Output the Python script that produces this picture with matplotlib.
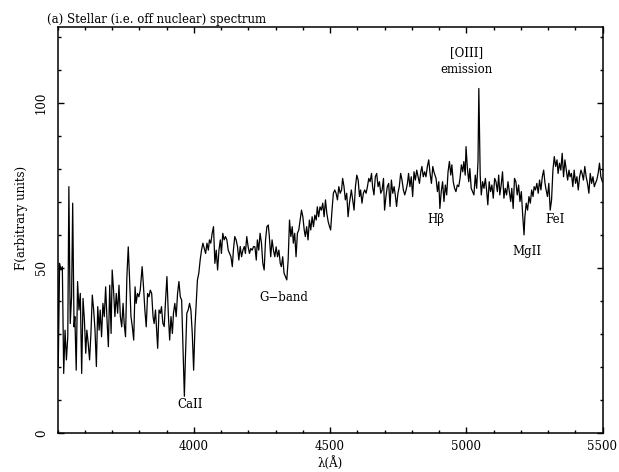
import numpy as np
import matplotlib
matplotlib.use("Agg")
import matplotlib.pyplot as plt
from matplotlib.ticker import MultipleLocator

plt.rcParams.update({
    'font.family': 'DejaVu Serif',
    'font.size': 8.5,
})

# wavelength (A) and flux, blue part
wave_a = [3500, 3502, 3507, 3512, 3517, 3522, 3527, 3532, 3537, 3541, 3546, 3551, 3555, 3560,
          3563, 3568, 3573, 3578, 3583, 3588, 3593, 3598, 3603, 3607, 3612, 3617, 3622, 3627,
          3632, 3637, 3642, 3647, 3652, 3656, 3661, 3666, 3671, 3676, 3681, 3686, 3691, 3696,
          3700, 3705, 3710, 3715, 3720, 3725, 3730, 3735, 3740, 3744, 3749, 3754, 3759, 3764,
          3769, 3774, 3779, 3784, 3788, 3793, 3798, 3803, 3810, 3815, 3820, 3825, 3830, 3835,
          3840, 3845, 3850, 3854, 3859]
flux_a = [51.4, 20.2, 51.4, 49.4, 50.4, 18.1, 31.2, 22.2, 29.2, 74.6, 33.2, 41.3, 69.6, 32.2,
          35.3, 19.1, 45.9, 37.3, 42.3, 18.1, 40.8, 34.3, 24.2, 31.2, 27.2, 22.2, 30.2, 41.8,
          37.3, 31.2, 20.2, 38.3, 31.2, 37.3, 29.2, 39.3, 35.3, 44.3, 34.3, 26.2, 44.8, 30.2,
          49.4, 43.3, 35.3, 42.3, 36.3, 44.8, 35.3, 32.2, 39.3, 33.2, 29.2, 47.4, 56.4, 46.4,
          35.3, 32.2, 28.2, 44.3, 39.3, 42.3, 41.3, 43.3, 50.4, 44.3, 37.3, 32.2, 42.3, 41.3,
          43.3, 42.3, 35.3, 33.2, 37.3]

# CaII break region
wave_b = [3867, 3872, 3877, 3881, 3886, 3891, 3896, 3901, 3906, 3911, 3916, 3921, 3925, 3930,
          3935, 3940, 3945, 3950, 3955, 3960, 3965, 3969, 3974, 3979, 3984, 3989, 3994, 3999,
          4004, 4009, 4013, 4018, 4023, 4028, 4033, 4038, 4043, 4048, 4053, 4057, 4062, 4067,
          4072, 4077, 4082, 4087, 4092, 4097, 4101, 4106, 4111, 4116, 4121, 4126, 4131, 4136,
          4141, 4145, 4150, 4155, 4160, 4165, 4170, 4175, 4180, 4185, 4189, 4194, 4199, 4204,
          4209, 4214, 4219]
flux_b = [25.7, 37.3, 36.3, 38.3, 33.3, 32.3, 40.3, 47.4, 36.3, 28.2, 35.3, 30.2, 36.3, 39.3,
          35.3, 42.3, 45.9, 41.3, 40.3, 26.2, 11.2, 23.2, 36.3, 37.3, 39.3, 37.3, 30.2, 19.1,
          32.3, 40.3, 46.4, 48.4, 52.4, 55.4, 57.5, 55.9, 54.4, 57.5, 55.4, 58.5, 57.5, 60.5,
          62.5, 51.4, 55.4, 49.4, 55.4, 58.5, 54.4, 60.5, 58.5, 59.5, 58.5, 55.4, 54.4, 53.4,
          50.4, 55.4, 59.5, 58.5, 56.5, 52.4, 56.5, 53.4, 55.4, 56.5, 54.4, 59.5, 56.5, 54.4,
          55.9, 55.4, 56.5]

# G-band region
wave_c = [4224, 4229, 4233, 4238, 4243, 4248, 4253, 4258, 4263, 4268, 4273, 4277, 4282, 4287,
          4292, 4297, 4302, 4307, 4312, 4317, 4321, 4326, 4331, 4336, 4341, 4346, 4351, 4356,
          4361, 4365, 4370, 4375, 4380, 4385, 4390, 4395, 4400, 4405, 4409, 4414, 4419, 4424,
          4429, 4434, 4439, 4444, 4449, 4453, 4458, 4463, 4468, 4473, 4478, 4483, 4488, 4493,
          4498, 4502, 4507, 4512, 4517, 4522, 4527, 4532, 4537, 4542, 4546, 4551, 4556, 4561,
          4566, 4571]
flux_c = [56.4, 52.4, 58.5, 55.4, 60.5, 57.5, 51.4, 49.4, 58.5, 62.5, 63.0, 59.5, 53.4, 58.5,
          55.4, 53.4, 56.4, 53.4, 55.4, 51.4, 50.4, 53.4, 48.4, 47.4, 46.4, 52.4, 64.5, 59.5,
          62.5, 57.5, 60.5, 53.4, 60.5, 61.5, 64.5, 67.5, 65.5, 61.5, 59.5, 62.5, 58.5, 64.5,
          61.5, 65.5, 62.5, 66.0, 64.5, 68.5, 65.5, 68.5, 67.5, 69.6, 65.5, 70.6, 66.5, 64.0,
          62.5, 61.5, 67.5, 72.6, 73.6, 72.6, 70.6, 74.6, 72.6, 73.6, 77.1, 74.6, 70.6, 72.6,
          65.5, 69.6]

# up to Hbeta
wave_d = [4578, 4583, 4588, 4593, 4598, 4603, 4608, 4612, 4617, 4622, 4627, 4632, 4637, 4642,
          4647, 4652, 4656, 4661, 4666, 4671, 4676, 4681, 4686, 4691, 4696, 4700, 4705, 4710,
          4715, 4720, 4725, 4730, 4735, 4740, 4744, 4749, 4754, 4759, 4764, 4769, 4774, 4779,
          4784, 4788, 4793, 4798, 4803, 4808, 4813, 4818, 4823, 4828, 4833, 4837, 4842, 4847,
          4852, 4857, 4862, 4867, 4872, 4877, 4881]
flux_d = [73.6, 70.6, 67.5, 74.6, 78.1, 76.6, 71.6, 73.6, 69.6, 72.6, 73.6, 72.6, 74.6, 77.1,
          76.1, 78.6, 74.6, 72.1, 77.6, 78.6, 74.6, 76.1, 72.6, 73.6, 77.1, 67.5, 71.6, 74.6,
          75.6, 68.6, 76.6, 72.6, 74.6, 71.6, 68.6, 72.6, 74.6, 78.6, 76.6, 73.6, 72.1, 73.6,
          75.6, 78.6, 74.6, 77.6, 71.6, 79.1, 76.6, 79.6, 77.6, 75.6, 79.1, 80.7, 77.6, 79.1,
          77.6, 80.7, 82.7, 78.6, 75.6, 80.7, 79.1]

# [OIII] and MgII
wave_e = [4889, 4894, 4899, 4903, 4908, 4913, 4918, 4923, 4928, 4933, 4938, 4943, 4947, 4952,
          4957, 4962, 4967, 4972, 4977, 4982, 4987, 4991, 4996, 4999, 5004, 5009, 5013, 5018,
          5023, 5028, 5033, 5038, 5043, 5046, 5051, 5055, 5060, 5065, 5070, 5075, 5079, 5084,
          5089, 5094, 5099, 5104, 5109, 5114, 5119, 5123, 5128, 5133, 5138, 5143, 5148, 5153,
          5158, 5163, 5167, 5172, 5177, 5182, 5187, 5192, 5197, 5202, 5207, 5212]
flux_e = [77.1, 73.1, 76.1, 68.0, 73.1, 76.1, 70.1, 75.1, 72.1, 79.1, 82.2, 78.1, 81.2, 76.1,
          74.1, 73.1, 75.1, 74.6, 77.1, 81.2, 79.1, 82.2, 78.1, 86.7, 80.1, 76.1, 80.1, 74.1,
          73.1, 72.1, 78.1, 74.1, 82.2, 104.3, 78.1, 72.1, 76.1, 74.1, 77.1, 73.1, 69.1, 76.1,
          73.1, 75.1, 71.1, 77.1, 76.1, 73.1, 78.1, 72.1, 75.1, 79.1, 71.1, 74.1, 72.1, 76.1,
          73.1, 70.1, 74.1, 68.0, 77.1, 76.1, 72.1, 75.1, 70.1, 73.1, 66.0, 60.0]

# red end, FeI
wave_f = [5215, 5220, 5225, 5230, 5235, 5240, 5245, 5249, 5254, 5259, 5264, 5269, 5274, 5279,
          5284, 5289, 5293, 5298, 5303, 5308, 5313, 5318, 5323, 5328, 5333, 5337, 5342, 5347,
          5352, 5357, 5362, 5367, 5372, 5377, 5381, 5386, 5391, 5396, 5401, 5406, 5411, 5416,
          5421, 5425, 5430, 5435, 5440, 5445, 5450, 5455, 5460, 5465, 5470, 5474, 5479, 5484,
          5489, 5494, 5500]
flux_f = [65.5, 69.6, 67.5, 71.6, 69.6, 73.6, 71.6, 74.6, 73.6, 75.6, 72.6, 76.6, 73.6, 77.6,
          79.6, 75.6, 73.6, 71.6, 75.6, 67.5, 70.6, 79.6, 83.7, 80.7, 82.7, 78.6, 81.7, 79.6,
          84.7, 77.6, 82.7, 79.6, 76.6, 79.6, 77.6, 78.6, 74.6, 79.6, 75.6, 77.6, 73.6, 77.6,
          79.6, 78.6, 76.6, 80.7, 77.6, 75.6, 72.6, 78.6, 75.6, 77.6, 74.6, 75.6, 76.6, 78.6,
          81.7, 77.6, 76.0]

# line labels: text, wavelength, flux
line_names = ['CaII', 'G\u2212band', 'H\u03b2', '[OIII]\nemission', 'MgII', 'FeI']
line_wave = [3986, 4330, 4887, 5002, 5223, 5327]
line_flux = [8.6, 41.0, 64.8, 112.7, 55.0, 64.8]

wave = np.array(wave_a + wave_b + wave_c + wave_d + wave_e + wave_f)
flux = np.array(flux_a + flux_b + flux_c + flux_d + flux_e + flux_f)

fig = plt.figure(figsize=(6.19, 4.72), dpi=100)
ax = fig.add_axes([57.7/619, 1-433.3/472, (602.5-57.7)/619, (433.3-27.3)/472])

ax.plot(wave, flux, color='black', lw=0.9)

for name, lw_, fl in zip(line_names, line_wave, line_flux):
    ax.text(lw_, fl, name, ha='center', va='center', fontsize=8.5, linespacing=1.4)

ax.set_xlim(3500, 5500)
ax.set_ylim(0, 122.8)
ax.xaxis.set_major_locator(MultipleLocator(500))
ax.xaxis.set_minor_locator(MultipleLocator(100))
ax.yaxis.set_major_locator(MultipleLocator(50))
ax.yaxis.set_minor_locator(MultipleLocator(10))
ax.set_xticks([4000, 4500, 5000, 5500])
ax.tick_params(which='both', direction='in', top=True, right=True, width=1)
ax.tick_params(which='major', length=4)
ax.tick_params(which='minor', length=2.3)
ax.tick_params(axis='x', pad=5)
ax.tick_params(axis='y', pad=7)
for lab in ax.get_yticklabels():
    lab.set_rotation(90)
    lab.set_va('center')
for sp in ax.spines.values():
    sp.set_linewidth(1.1)

fig.text(22/619, 1-218/472, 'F(arbitrary units)', rotation=90, ha='center', va='center')
fig.text(330/619, 1-463/472, '\u03bb(\u00c5)', ha='center', va='center')
fig.text(47/619, 1-20/472, '(a) Stellar (i.e. off nuclear) spectrum', ha='left', va='center')

fig.savefig('out.png', dpi=100)
